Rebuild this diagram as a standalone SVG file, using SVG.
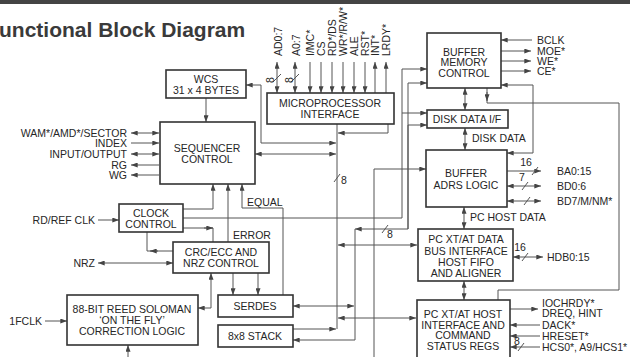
<svg xmlns="http://www.w3.org/2000/svg" width="630" height="357" viewBox="0 0 630 357">
<defs>
<marker id="ah" viewBox="0 0 8 6" refX="8" refY="3" markerWidth="7" markerHeight="5" markerUnits="userSpaceOnUse" orient="auto-start-reverse"><path d="M0,0 L8,3 L0,6 z" fill="#444"/></marker>
<style>
.box{fill:#fff;stroke:#333;stroke-width:1.6}
.t{font-family:"Liberation Sans",Arial,sans-serif;font-size:10.5px;fill:#262626;text-anchor:middle}
.l{font-family:"Liberation Sans",Arial,sans-serif;font-size:10.5px;fill:#262626}
.r{text-anchor:end}
.c{fill:none;stroke:#555;stroke-width:1}
.e{marker-end:url(#ah)}
.b{marker-start:url(#ah);marker-end:url(#ah)}
</style>
</defs>
<rect x="0" y="0" width="630" height="4" fill="#444"/>
<text x="-1" y="37" font-family="Liberation Sans,Arial,sans-serif" font-size="21" font-weight="bold" fill="#3a3a3a">unctional Block Diagram</text>

<g id="connectors">
<path class="c b" d="M277,62 V93"/>
<path class="c b" d="M295,62 V93"/>
<path class="c e" d="M310,62 V93"/>
<path class="c e" d="M321,62 V93"/>
<path class="c e" d="M332,62 V93"/>
<path class="c e" d="M343,62 V93"/>
<path class="c e" d="M354,62 V93"/>
<path class="c e" d="M365,62 V93"/>
<path class="c e" d="M375,93 V62"/>
<path class="c e" d="M386,93 V62"/>
<path class="c" d="M273,82 L281,74 M291,82 L299,74"/>
<path class="c b" d="M246,85 H261 V143 H336"/>
<path class="c e" d="M206,98 V122"/>
<path class="c b" d="M255,154 H336"/>
<path class="c e" d="M388,124 V133 H338"/>
<path class="c" d="M337,124 V329"/>
<path class="c" d="M334,182 L340,174"/>
<path class="c e" d="M293,329 H336"/>
<path class="c b" d="M338,245 H417"/>
<path class="c b" d="M338,318 H416"/>
<path class="c b" d="M293,306 H354"/>
<path class="c e" d="M408,229 V125 H427"/>
<path class="c" d="M408,83 V229"/>
<path class="c e" d="M408,83 H427"/>
<path class="c e" d="M408,229 H355"/>
<path class="c e" d="M355,229 V340 H293"/>
<path class="c" d="M382,233 L388,225"/>
<path class="c e" d="M183,218 H402 V69 H427"/>
<path class="c e" d="M402,113 H427"/>
<path class="c e" d="M374,357 V169 H426"/>
<path class="c e" d="M283,295 V208 H242 V184"/>
<path class="c e" d="M183,209 H213 V184"/>
<path class="c e" d="M228,242 V184"/>
<path class="c" d="M183,228 H213 V242"/>
<path class="c e" d="M204,228 H213"/>
<path class="c" d="M173,251 H147 V232"/>
<path class="c e" d="M158,251 H150"/>
<path class="c b" d="M98,263 H173"/>
<path class="c e" d="M233,273 V295"/>
<path class="c e" d="M258,273 V295"/>
<path class="c b" d="M198,308 H211 V273"/>
<path class="c e" d="M45,321 H67"/>
<path class="c e" d="M128,357 V345"/>
<path class="c e" d="M98,220 H119"/>
<path class="c b" d="M131,133 H159"/>
<path class="c e" d="M131,143 H159"/>
<path class="c b" d="M131,154 H159"/>
<path class="c e" d="M159,165 H131"/>
<path class="c e" d="M159,175 H131"/>
<path class="c e" d="M532,40 H501"/>
<path class="c e" d="M501,51 H531"/>
<path class="c e" d="M501,61 H531"/>
<path class="c e" d="M501,71 H531"/>
<path class="c b" d="M465,88 V110"/>
<path class="c" d="M487,88 V103 H619 V290 H498 V300"/>
<path class="c e" d="M487,92 V101"/>
<path class="c b" d="M501,85 H533 V153 H507"/>
<path class="c b" d="M465,128 V150"/>
<path class="c e" d="M507,171 H541"/>
<path class="c" d="M532,175 L538,167"/>
<path class="c b" d="M507,186 H541"/>
<path class="c" d="M522,190 L528,182"/>
<path class="c b" d="M507,201 H541"/>
<path class="c" d="M524,205 L530,197"/>
<path class="c b" d="M464,207 V229"/>
<path class="c b" d="M513,257 H543"/>
<path class="c" d="M522,261 L528,253"/>
<path class="c b" d="M464,281 V300"/>
<path class="c e" d="M510,309 H538"/>
<path class="c e" d="M540,325 H510"/>
<path class="c e" d="M540,336 H510"/>
<path class="c e" d="M540,347 H510"/>
<path class="c" d="M518,351 L524,343"/>
</g>

<g id="labels">
<text class="l" transform="translate(282,56) rotate(-90)">AD0:7</text>
<text class="l" transform="translate(300,56) rotate(-90)">A0:7</text>
<text class="l" transform="translate(314,56) rotate(-90)">I/MC*</text>
<text class="l" transform="translate(325,56) rotate(-90)">CS</text>
<text class="l" transform="translate(336,56) rotate(-90)">RD*/DS</text>
<text class="l" transform="translate(347,56) rotate(-90)">WR*/R/W*</text>
<text class="l" transform="translate(358,56) rotate(-90)">ALE</text>
<text class="l" transform="translate(369,56) rotate(-90)">RST*</text>
<text class="l" transform="translate(379,56) rotate(-90)">INT*</text>
<text class="l" transform="translate(390,56) rotate(-90)">LRDY*</text>
<text class="t" transform="translate(274,80) rotate(-90)">8</text>
<text class="t" transform="translate(293,80) rotate(-90)">8</text>
<text class="l" x="341" y="184">8</text>
<text class="l" x="387" y="238">8</text>
<text class="l r" x="127" y="137">WAM*/AMD*/SECTOR</text>
<text class="l r" x="127" y="147">INDEX</text>
<text class="l r" x="127" y="158">INPUT/OUTPUT</text>
<text class="l r" x="127" y="169">RG</text>
<text class="l r" x="127" y="179">WG</text>
<text class="l r" x="95" y="224">RD/REF CLK</text>
<text class="l r" x="95" y="267">NRZ</text>
<text class="l r" x="42" y="325">1FCLK</text>
<text class="l" x="247" y="206">EQUAL</text>
<text class="l" x="233" y="239">ERROR</text>
<text class="l" x="537" y="44">BCLK</text>
<text class="l" x="537" y="55">MOE*</text>
<text class="l" x="537" y="65">WE*</text>
<text class="l" x="537" y="75">CE*</text>
<text class="l" x="472" y="142">DISK DATA</text>
<text class="t" x="526" y="166">16</text>
<text class="t" x="522" y="181">7</text>
<text class="l" x="557" y="175">BA0:15</text>
<text class="l" x="557" y="190">BD0:6</text>
<text class="l" x="557" y="205">BD7/M/NM*</text>
<text class="l" x="470" y="221">PC HOST DATA</text>
<text class="t" x="520" y="251">16</text>
<text class="l" x="547" y="261">HDB0:15</text>
<text class="l" x="542" y="307">IOCHRDY*</text>
<text class="l" x="542" y="317">DREQ, HINT</text>
<text class="l" x="542" y="329">DACK*</text>
<text class="l" x="542" y="340">HRESET*</text>
<text class="t" x="517" y="345">8</text>
<text class="l" x="542" y="351">HCS0*, A9/HCS1*</text>
</g>

<g id="wcs"><rect class="box" x="166" y="70" width="80" height="28"/><text class="t" x="206" y="83">WCS</text><text class="t" x="206" y="94">31 x 4 BYTES</text></g>
<g id="seq"><rect class="box" x="160" y="122" width="95" height="62"/><text class="t" x="207" y="152">SEQUENCER</text><text class="t" x="207" y="163">CONTROL</text></g>
<g id="mpu"><rect class="box" x="267" y="93" width="127" height="31"/><text class="t" x="330" y="107">MICROPROCESSOR</text><text class="t" x="330" y="118">INTERFACE</text></g>
<g id="bmc"><rect class="box" x="427" y="33" width="74" height="55"/><text class="t" x="464" y="56">BUFFER</text><text class="t" x="464" y="66">MEMORY</text><text class="t" x="464" y="77">CONTROL</text></g>
<g id="disk"><rect class="box" x="427" y="110" width="81" height="18"/><text class="t" x="467" y="123">DISK DATA I/F</text></g>
<g id="adrs"><rect class="box" x="426" y="150" width="81" height="57"/><text class="t" x="466" y="177">BUFFER</text><text class="t" x="466" y="189">ADRS LOGIC</text></g>
<g id="pcdata"><rect class="box" x="418" y="229" width="95" height="52"/><text class="t" x="466" y="243">PC XT/AT DATA</text><text class="t" x="466" y="255">BUS INTERFACE</text><text class="t" x="466" y="266">HOST FIFO</text><text class="t" x="466" y="277">AND ALIGNER</text></g>
<g id="pchost"><rect class="box" x="417" y="300" width="93" height="62"/><text class="t" x="463" y="318">PC XT/AT HOST</text><text class="t" x="463" y="329">INTERFACE AND</text><text class="t" x="463" y="339">COMMAND</text><text class="t" x="463" y="350">STATUS REGS</text></g>
<g id="clock"><rect class="box" x="119" y="204" width="64" height="28"/><text class="t" x="151" y="217">CLOCK</text><text class="t" x="151" y="228">CONTROL</text></g>
<g id="crc"><rect class="box" x="173" y="242" width="96" height="31"/><text class="t" x="221" y="256">CRC/ECC AND</text><text class="t" x="221" y="267">NRZ CONTROL</text></g>
<g id="serdes"><rect class="box" x="218" y="295" width="75" height="22"/><text class="t" x="255" y="310">SERDES</text></g>
<g id="stack"><rect class="box" x="218" y="325" width="75" height="22"/><text class="t" x="255" y="340">8x8 STACK</text></g>
<g id="rs"><rect class="box" x="67" y="295" width="131" height="50"/><text class="t" x="132" y="313">88-BIT REED SOLOMAN</text><text class="t" x="132" y="324">‘ON THE FLY’</text><text class="t" x="132" y="335">CORRECTION LOGIC</text></g>
</svg>
